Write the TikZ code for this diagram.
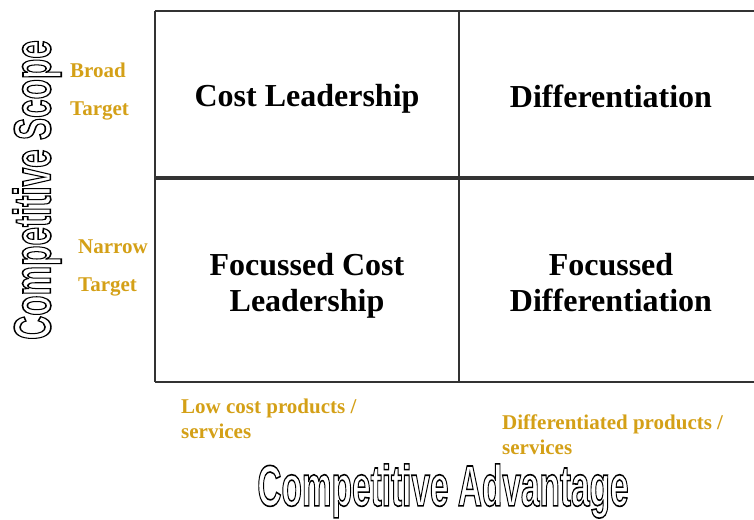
\documentclass[tikz,border=0pt]{standalone}
\usepackage{fontspec}
\usepackage{graphicx}
\setmainfont{Liberation Serif}
\newfontfamily\outlinefont{Liberation Sans}
\definecolor{gold}{RGB}{212,160,23}
\definecolor{gridgray}{RGB}{51,51,51}
\newcommand\outlinetext[1]{\special{pdf:literal direct 1 Tr 1.6 w}#1\special{pdf:literal direct 0 Tr}}
\tikzset{
  grid line/.style={draw=gridgray, line width=2.6bp},
  quad/.style={font=\bfseries\fontsize{32bp}{36bp}\selectfont, align=center, inner sep=0pt},
  sidelabel/.style={font=\bfseries\fontsize{21bp}{38bp}\selectfont, text=gold, align=left, anchor=west, inner sep=0pt},
  botlabel/.style={font=\bfseries\fontsize{21bp}{24.5bp}\selectfont, text=gold, align=left, anchor=west, inner sep=0pt},
  outl/.style={inner sep=0pt, font=\outlinefont\bfseries}
}
\begin{document}
\begin{tikzpicture}[x=1bp, y=-1bp]
\useasboundingbox (0,0) rectangle (754,520);
% grid
\draw[grid line] (155,11) -- (755,11);
\draw[grid line] (155,11) -- (155,382);
\draw[grid line] (459,11) -- (459,382);
\draw[grid line, line width=3.6bp] (155,178) -- (755,178);
\draw[grid line] (155,382) -- (755,382);
% quadrant texts
\node[quad] (cl) at (307,99) {Cost Leadership};
\node[quad] (df) at (611,96) {Differentiation};
\node[quad] (fcl) at (307,286) {Focussed Cost\\Leadership};
\node[quad] (fdf) at (611,283) {Focussed\\Differentiation};
% side labels
\node[sidelabel] (broad) at (70,92) {Broad\\Target};
\node[sidelabel] (narrow) at (78,268) {Narrow\\Target};
% bottom labels
\node[botlabel] (low) at (181,419) {Low cost products /\\services};
\node[botlabel] (diffp) at (502,434.5) {Differentiated products /\\services};
% outline axis titles
\node[outl] (adv) at (443,491) {\scalebox{0.576}[1]{\fontsize{58bp}{60bp}\selectfont\outlinetext{Competitive Advantage}}};
\node[outl, rotate=90] (scope) at (37,190) {\scalebox{0.64}[1]{\fontsize{52bp}{54bp}\selectfont\outlinetext{Competitive Scope}}};
\end{tikzpicture}
\end{document}
